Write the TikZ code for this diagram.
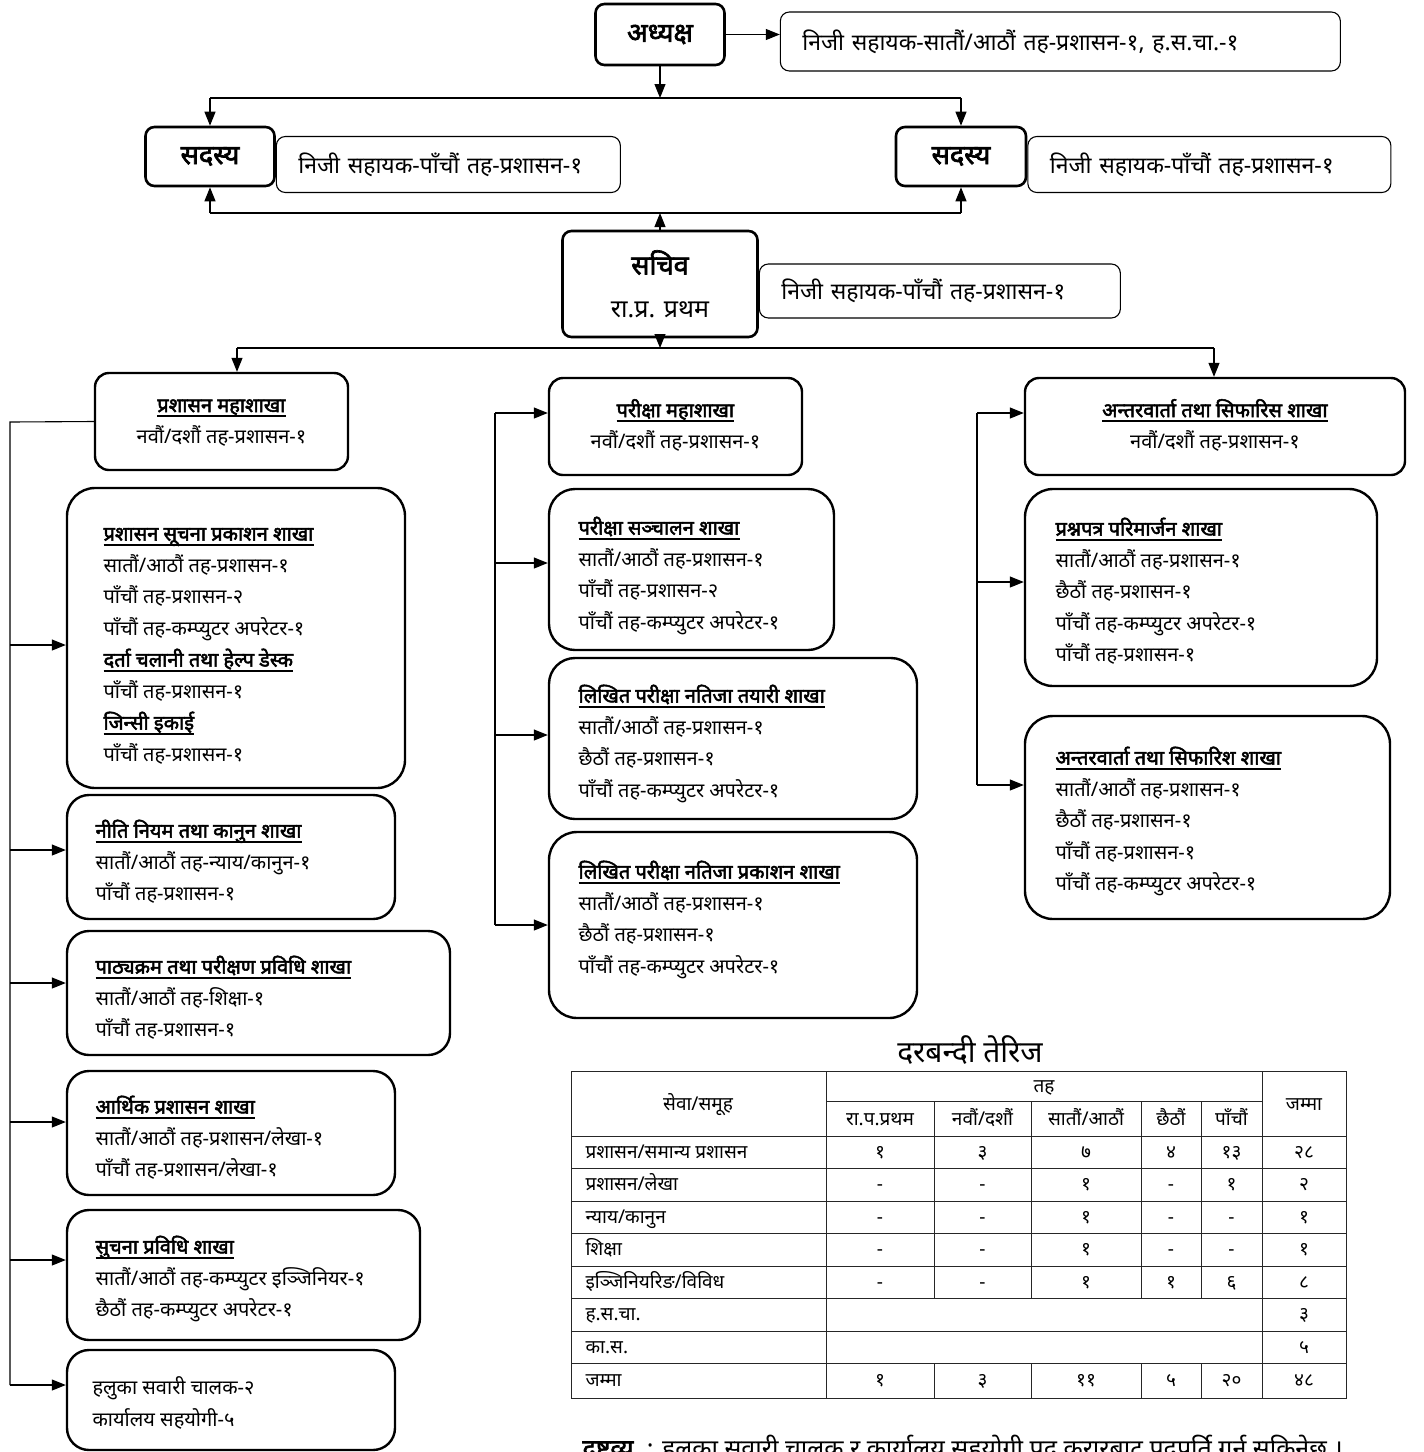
\documentclass[tikz,border=0pt]{standalone}
\usepackage{fontspec}
\setmainfont[Script=Devanagari, BoldFont={Noto Sans}, BoldFeatures={FakeBold=2.5}]{Noto Sans}
\usetikzlibrary{arrows.meta,positioning}

\newcommand\headfont{\fontsize{27}{32}\selectfont\bfseries}
\newcommand\aidfont{\fontsize{23}{27}\selectfont}
\newcommand\bodyfont{\fontsize{20}{31.5}\selectfont}
\newcommand\cellfont{\fontsize{19}{22}\selectfont}
\newcommand\notefont{\fontsize{25}{29}\selectfont}
\newcommand\brhead[1]{\setbox0\hbox{\textbf{#1}}\rlap{\rule[-5pt]{\wd0}{1.6pt}}\box0}

\begin{document}
\begin{tikzpicture}[x=1pt, y=-1pt, line width=1.1pt,
    headbox/.style={draw, line width=2.6pt, rounded corners=9pt, font=\headfont},
    aidbox/.style={draw, line width=1.1pt, rounded corners=9pt, font=\aidfont, align=left, inner xsep=22pt},
    mahabox/.style={draw, line width=2.4pt, rounded corners=14pt, font=\bodyfont, align=center},
    unitbox/.style={draw, line width=2.4pt, rounded corners=28pt},
    unittext/.style={font=\bodyfont, align=left, inner sep=0pt, anchor=north west},
    cell/.style={font=\cellfont, inner sep=0pt, anchor=base},
    tablerule/.style={line width=1pt, black!85},
    tip/.style={-{Triangle[length=14pt, width=11pt]}}]
  \useasboundingbox (0,0) rectangle (1424,1452);
  \clip (0,0) rectangle (1424,1452);

  % top of the office
  \node[headbox, minimum width=129, minimum height=61] (adhyaksha) at (660,34.5) {अध्यक्ष};
  \node[aidbox, text width=516, minimum height=59, right=54pt of adhyaksha, yshift=-7pt] (adhyaksha-aid)
    {निजी सहायक-सातौं/आठौं तह-प्रशासन-१, ह.स.चा.-१};

  \node[headbox, minimum width=129, minimum height=59] (sadasyaL) at (210,156.5) {सदस्य};
  \node[aidbox, text width=300, minimum height=56, right=0pt of sadasyaL, yshift=-8pt] (sadasyaL-aid)
    {निजी सहायक-पाँचौं तह-प्रशासन-१};
  \node[headbox, minimum width=130, minimum height=59] (sadasyaR) at (961,156.5) {सदस्य};
  \node[aidbox, text width=319, minimum height=56, right=0pt of sadasyaR, yshift=-8pt] (sadasyaR-aid)
    {निजी सहायक-पाँचौं तह-प्रशासन-१};

  \node[headbox, minimum width=195, minimum height=106, align=center, font=\fontsize{25}{30}\selectfont] (sachiv) at (660,284)
    {{\headfont सचिव}\\[13pt] रा.प्र. प्रथम};
  \node[aidbox, text width=317, minimum height=54, right=0pt of sachiv, yshift=-7pt] (sachiv-aid)
    {निजी सहायक-पाँचौं तह-प्रशासन-१};

  \coordinate (topjoin) at (660,98);
  \coordinate (midjoin) at (660,213);
  \coordinate (lowjoin) at (660,348);
  \coordinate (lowL) at (237,348);
  \coordinate (lowR) at (1214,348);

  \draw[tip] (adhyaksha.east) -- (adhyaksha.east -| adhyaksha-aid.west);
  \draw[tip] (adhyaksha.south) -- (topjoin);
  \draw (topjoin -| sadasyaL) -- (topjoin -| sadasyaR);
  \draw[tip] (topjoin -| sadasyaL) -- (sadasyaL.north);
  \draw[tip] (topjoin -| sadasyaR) -- (sadasyaR.north);
  \draw[tip] (sachiv.north) -- (midjoin);
  \draw (midjoin -| sadasyaL) -- (midjoin -| sadasyaR);
  \draw[tip] (midjoin -| sadasyaL) -- (sadasyaL.south);
  \draw[tip] (midjoin -| sadasyaR) -- (sadasyaR.south);
  \draw[tip] (sachiv.south) -- (lowjoin);
  \draw (lowL) -- (lowR);

  % divisions
  \node[mahabox, minimum width=253, minimum height=97] (prashasanmaha) at (221.5,421.5)
    {\strut\brhead{प्रशासन महाशाखा}\\ \strut नवौं/दशौं तह-प्रशासन-१};
  \node[mahabox, minimum width=253, minimum height=97] (parikshamaha) at (675.5,426.5)
    {\strut\brhead{परीक्षा महाशाखा}\\ \strut नवौं/दशौं तह-प्रशासन-१};
  \node[mahabox, minimum width=380, minimum height=97] (antarmaha) at (1215,426.5)
    {\strut\brhead{अन्तरवार्ता तथा सिफारिस शाखा}\\ \strut नवौं/दशौं तह-प्रशासन-१};

  \draw[tip] (lowL) -- (lowL |- prashasanmaha.north);
  \draw[tip] (lowR) -- (lowR |- antarmaha.north);

  % left column
  \node[unitbox, minimum width=338, minimum height=300] (b1) at (236,638) {};
  \node[unittext] (b1txt) at (103,518)
    {\strut\brhead{प्रशासन सूचना प्रकाशन शाखा}\\
     \strut सातौं/आठौं तह-प्रशासन-१\\
     \strut पाँचौं तह-प्रशासन-२\\
     \strut पाँचौं तह-कम्प्युटर अपरेटर-१\\
     \strut\brhead{दर्ता चलानी तथा हेल्प डेस्क}\\
     \strut पाँचौं तह-प्रशासन-१\\
     \strut\brhead{जिन्सी इकाई}\\
     \strut पाँचौं तह-प्रशासन-१};
  \node[unitbox, rounded corners=22pt, minimum width=328, minimum height=124] (b2) at (231,857) {};
  \node[unittext] (b2txt) at (95,815)
    {\strut\brhead{नीति नियम तथा कानुन शाखा}\\
     \strut सातौं/आठौं तह-न्याय/कानुन-१\\
     \strut पाँचौं तह-प्रशासन-१};
  \node[unitbox, rounded corners=22pt, minimum width=383, minimum height=124] (b3) at (258.5,993) {};
  \node[unittext] (b3txt) at (95,951)
    {\strut\brhead{पाठ्यक्रम तथा परीक्षण प्रविधि शाखा}\\
     \strut सातौं/आठौं तह-शिक्षा-१\\
     \strut पाँचौं तह-प्रशासन-१};
  \node[unitbox, rounded corners=22pt, minimum width=328, minimum height=124] (b4) at (231,1133) {};
  \node[unittext] (b4txt) at (95,1091)
    {\strut\brhead{आर्थिक प्रशासन शाखा}\\
     \strut सातौं/आठौं तह-प्रशासन/लेखा-१\\
     \strut पाँचौं तह-प्रशासन/लेखा-१};
  \node[unitbox, rounded corners=22pt, minimum width=353, minimum height=130] (b5) at (243.5,1275) {};
  \node[unittext] (b5txt) at (95,1231)
    {\strut\brhead{सुचना प्रविधि शाखा}\\
     \strut सातौं/आठौं तह-कम्प्युटर इञ्जिनियर-१\\
     \strut छैठौं तह-कम्प्युटर अपरेटर-१};
  \node[unitbox, rounded corners=22pt, minimum width=328, minimum height=100] (b6) at (231,1400) {};
  \node[unittext] (b6txt) at (92,1372)
    {\strut हलुका सवारी चालक-२\\
     \strut कार्यालय सहयोगी-५};

  \coordinate (railL) at (10,422);
  \draw (prashasanmaha.west) -- (railL) -- (railL |- 0,1385);
  \foreach \n/\y in {b1/645, b2/850, b3/983, b4/1122, b5/1260, b6/1385}
    \draw[tip] (railL |- 0,\y) -- (\n.west |- 0,\y);

  % middle column
  \node[unitbox, rounded corners=26pt, minimum width=285, minimum height=161] (m1) at (691.5,569.5) {};
  \node[unittext] (m1txt) at (578,512)
    {\strut\brhead{परीक्षा सञ्चालन शाखा}\\
     \strut सातौं/आठौं तह-प्रशासन-१\\
     \strut पाँचौं तह-प्रशासन-२\\
     \strut पाँचौं तह-कम्प्युटर अपरेटर-१};
  \node[unitbox, rounded corners=26pt, minimum width=368, minimum height=161] (m2) at (733,738.5) {};
  \node[unittext] (m2txt) at (578,680)
    {\strut\brhead{लिखित परीक्षा नतिजा तयारी शाखा}\\
     \strut सातौं/आठौं तह-प्रशासन-१\\
     \strut छैठौं तह-प्रशासन-१\\
     \strut पाँचौं तह-कम्प्युटर अपरेटर-१};
  \node[unitbox, minimum width=368, minimum height=186] (m3) at (733,925) {};
  \node[unittext] (m3txt) at (578,856)
    {\strut\brhead{लिखित परीक्षा नतिजा प्रकाशन शाखा}\\
     \strut सातौं/आठौं तह-प्रशासन-१\\
     \strut छैठौं तह-प्रशासन-१\\
     \strut पाँचौं तह-कम्प्युटर अपरेटर-१};

  \coordinate (railM) at (495,413);
  \draw (railM) -- (railM |- 0,925);
  \foreach \n/\y in {parikshamaha/413, m1/563, m2/735, m3/925}
    \draw[tip] (railM |- 0,\y) -- (\n.west |- 0,\y);

  % right column
  \node[unitbox, minimum width=352, minimum height=197] (r1) at (1201,587.5) {};
  \node[unittext] (r1txt) at (1055,513)
    {\strut\brhead{प्रश्नपत्र परिमार्जन शाखा}\\
     \strut सातौं/आठौं तह-प्रशासन-१\\
     \strut छैठौं तह-प्रशासन-१\\
     \strut पाँचौं तह-कम्प्युटर अपरेटर-१\\
     \strut पाँचौं तह-प्रशासन-१};
  \node[unitbox, minimum width=365, minimum height=203] (r2) at (1207.5,817.5) {};
  \node[unittext] (r2txt) at (1055,742)
    {\strut\brhead{अन्तरवार्ता तथा सिफारिश शाखा}\\
     \strut सातौं/आठौं तह-प्रशासन-१\\
     \strut छैठौं तह-प्रशासन-१\\
     \strut पाँचौं तह-प्रशासन-१\\
     \strut पाँचौं तह-कम्प्युटर अपरेटर-१};

  \coordinate (railR) at (977,413);
  \draw (railR) -- (railR |- 0,785);
  \foreach \n/\y in {antarmaha/413, r1/582, r2/785}
    \draw[tip] (railR |- 0,\y) -- (\n.west |- 0,\y);

  % staffing table
  \node[font=\fontsize{30}{34}\selectfont, inner sep=0pt] (tabletitle) at (970,1050) {दरबन्दी तेरिज};

  \draw[tablerule] (571,1071) rectangle (1346,1398);
  \draw[tablerule] (826,1071) -- (826,1398) (1262,1071) -- (1262,1398);
  \draw[tablerule] (826,1101) -- (1262,1101);
  \foreach \y in {1136,1168,1201,1233,1266,1298,1331,1363}
    \draw[tablerule] (571,\y) -- (1346,\y);
  \foreach \x in {934,1031,1141,1201}
    \draw[tablerule] (\x,1101) -- (\x,1298) (\x,1363) -- (\x,1398);

  \node[cell] (h-seva) at (698,1110) {सेवा/समूह};
  \node[cell] (h-tah) at (1044,1092) {तह};
  \node[cell] (h-jamma) at (1304,1110) {जम्मा};
  \foreach \k/\x/\t in {1/880/रा.प.प्रथम, 2/982.5/{नवौं/दशौं}, 3/1086/{सातौं/आठौं}, 4/1171/छैठौं, 5/1231.5/पाँचौं}
    \node[cell] (h-\k) at (\x,1125) {\t};

  \foreach \r/\ry/\name/\a/\b/\c/\d/\e/\tot in {
      1/1152/{प्रशासन/समान्य प्रशासन}/१/३/७/४/१३/२८,
      2/1184.5/{प्रशासन/लेखा}/-/-/१/-/१/२,
      3/1217/{न्याय/कानुन}/-/-/१/-/-/१,
      4/1249.5/शिक्षा/-/-/१/-/-/१,
      5/1282/{इञ्जिनियरिङ/विविध}/-/-/१/१/६/८,
      8/1380.5/जम्मा/१/३/११/५/२०/४८}
  {
    \node[cell, anchor=base west] (c-\r) at (585,\ry+6) {\name};
    \node[cell] (c-\r-1) at (880,\ry+6) {\a};
    \node[cell] (c-\r-2) at (982.5,\ry+6) {\b};
    \node[cell] (c-\r-3) at (1086,\ry+6) {\c};
    \node[cell] (c-\r-4) at (1171,\ry+6) {\d};
    \node[cell] (c-\r-5) at (1231.5,\ry+6) {\e};
    \node[cell] (c-\r-6) at (1304,\ry+6) {\tot};
  }
  \node[cell, anchor=base west] (c-6) at (585,1320.5) {ह.स.चा.};
  \node[cell] (c-6-6) at (1304,1320.5) {३};
  \node[cell, anchor=base west] (c-7) at (585,1353) {का.स.};
  \node[cell] (c-7-6) at (1304,1353) {५};

  \node[font=\notefont, inner sep=0pt, anchor=base west] (note) at (582,1457)
    {\brhead{द्रष्टव्य}\ \ : हलुका सवारी चालक र कार्यालय सहयोगी पद करारबाट पदपूर्ति गर्न सकिनेछ ।};
\end{tikzpicture}
\end{document}
